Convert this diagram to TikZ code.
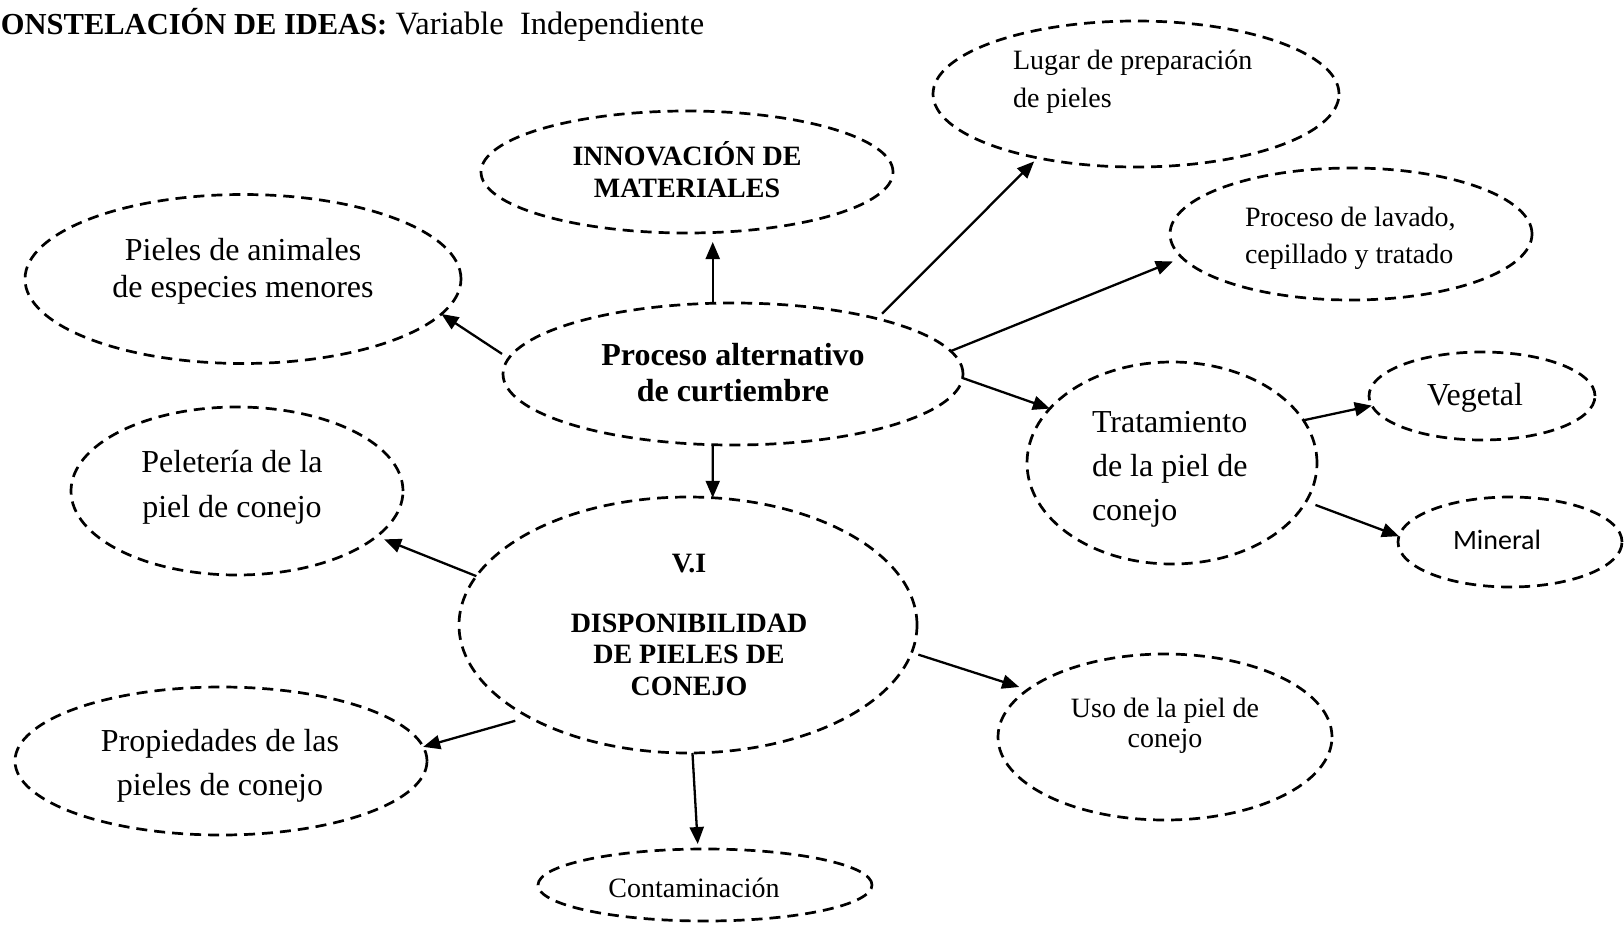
\documentclass[tikz,border=0pt]{standalone}
\usepackage{fontspec}
\setmainfont{Liberation Serif}
\newfontfamily\calib{Carlito}
\usetikzlibrary{shapes.geometric,arrows.meta}
\newcommand\mylines[2]{\begin{tabular}[t]{@{}#1@{}}#2\end{tabular}}
\tikzset{
  bub/.style={ellipse, draw, line width=2.7pt, dash pattern=on 11pt off 7pt, inner sep=0pt, outer sep=0pt},
  arr/.style={line width=2.3pt, -{Triangle[length=17pt,width=14pt]}},
  lbl/.style={inner sep=0pt, outer sep=0pt},
}
\begin{document}
\begin{tikzpicture}[x=1pt,y=-1pt]
\useasboundingbox (0,0) rectangle (1624,934);
\fill[white] (0,0) rectangle (1624,934);

% bubbles
\node[bub, minimum width=412pt, minimum height=122pt] (I) at (687,172) {};
\node[bub, minimum width=406pt, minimum height=146pt] (L) at (1136,94) {};
\node[bub, minimum width=362pt, minimum height=132pt] (W) at (1351,234) {};
\node[bub, minimum width=436pt, minimum height=169pt] (A) at (243,279) {};
\node[bub, minimum width=460pt, minimum height=142pt] (P) at (733,374) {};
\node[bub, minimum width=290pt, minimum height=202pt] (T) at (1172,463) {};
\node[bub, minimum width=226pt, minimum height=88pt] (G) at (1482,396) {};
\node[bub, minimum width=224pt, minimum height=90pt] (M) at (1510,542) {};
\node[bub, minimum width=332pt, minimum height=168pt] (E) at (237,491) {};
\node[bub, minimum width=458pt, minimum height=256pt] (V) at (688,625) {};
\node[bub, minimum width=412pt, minimum height=148pt] (R) at (221,761) {};
\node[bub, minimum width=334pt, minimum height=166pt] (U) at (1165,737) {};
\node[bub, minimum width=334pt, minimum height=72pt] (C) at (705,885) {};

% texts
\node[lbl, anchor=base west] (title) at (1,35) {\fontsize{30.5}{35}\selectfont\textbf{ONSTELACIÓN DE IDEAS:}\fontsize{32.5}{37}\selectfont\ Variable\ \ Independiente};
\node[lbl, anchor=base] (I-t) at (687,165) {\fontsize{28}{32}\selectfont\bfseries\mylines{c}{INNOVACIÓN DE\\MATERIALES}};
\node[lbl, anchor=base west] (L-t) at (1013,70) {\fontsize{28}{38}\selectfont\mylines{l}{Lugar de preparación\\de pieles}};
\node[lbl, anchor=base west] (W-t) at (1245,226) {\fontsize{28}{37}\selectfont\mylines{l}{Proceso de lavado,\\cepillado y tratado}};
\node[lbl, anchor=base] (A-t) at (243,260) {\fontsize{32}{37}\selectfont\mylines{c}{Pieles de animales\\de especies menores}};
\node[lbl, anchor=base] (P-t) at (733,365) {\fontsize{32}{36}\selectfont\bfseries\mylines{c}{Proceso alternativo\\de curtiembre}};
\node[lbl, anchor=base west] (T-t) at (1092,432) {\fontsize{32}{44}\selectfont\mylines{l}{Tratamiento\\de la piel de\\conejo}};
\node[lbl, anchor=base] (G-t) at (1475,405) {\fontsize{32}{37}\selectfont Vegetal};
\node[lbl, anchor=base] (M-t) at (1497,549) {\calib\fontsize{28}{32}\selectfont Mineral};
\node[lbl, anchor=base] (E-t) at (232,472) {\fontsize{32}{45}\selectfont\mylines{c}{Peletería de la\\piel de conejo}};
\node[lbl, anchor=base] (V-a) at (689,572) {\fontsize{28}{32}\selectfont\bfseries V.I};
\node[lbl, anchor=base] (V-t) at (689,632) {\fontsize{28}{31.5}\selectfont\bfseries\mylines{c}{DISPONIBILIDAD\\DE PIELES DE\\CONEJO}};
\node[lbl, anchor=base] (R-t) at (220,751) {\fontsize{32}{44}\selectfont\mylines{c}{Propiedades de las\\pieles de conejo}};
\node[lbl, anchor=base] (U-t) at (1165,717) {\fontsize{28}{30}\selectfont\mylines{c}{Uso de la piel de\\conejo}};
\node[lbl, anchor=base] (C-t) at (694,897) {\fontsize{28}{32}\selectfont Contaminación};

% connectors
\draw[arr, shorten >=9pt] (P.106) -- (P.106 |- I.south);
\draw[arr, shorten <=7pt, shorten >=5pt] (P.21) -- (L.213);
\draw[arr, shorten >=10pt] (P.6) -- (W.188);
\draw[arr, shorten <=8pt] (P.176) -- (A.350);
\draw[arr] (P.359) -- (T.156);
\draw[arr] (P.254) -- (V.79);
\draw[arr] (T.18) -- (G.185);
\draw[arr, shorten <=10pt] (T.344) -- (M.177);
\draw[arr, shorten >=8pt] (V.167) -- (E.342);
\draw[arr, shorten <=14pt] (V.210) -- (R.4);
\draw[arr, shorten <=7pt, shorten >=9pt] (V.353) -- (U.161);
\draw[arr, shorten >=5pt] (V.272) -- (C.101);
\end{tikzpicture}
\end{document}
